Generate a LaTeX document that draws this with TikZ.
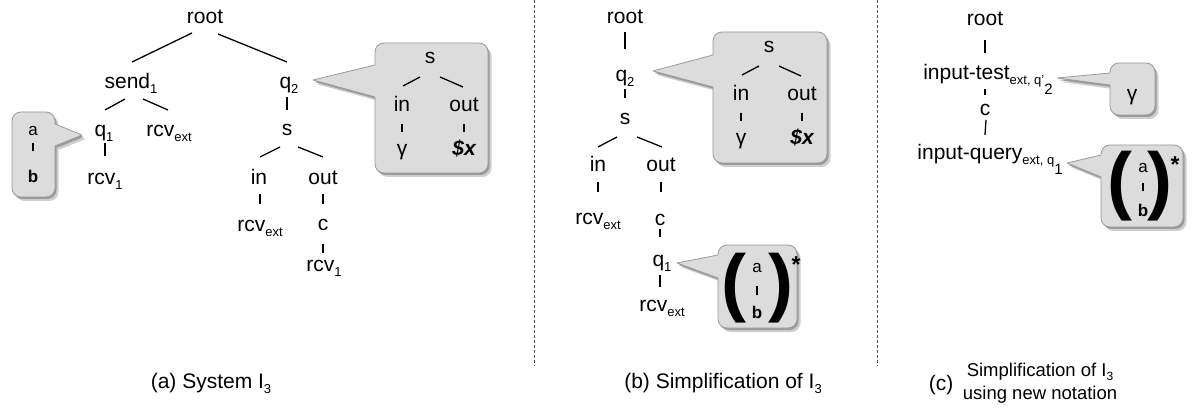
\documentclass[tikz,border=0pt]{standalone}
\usepackage{fontspec}
\setmainfont{Liberation Sans}
\usetikzlibrary{calc}
\newcommand\sbs[1]{\raisebox{-5pt}{\fontsize{13}{13}\selectfont #1}}
\newcommand\ssbs[1]{\raisebox{-10pt}{\fontsize{15}{15}\selectfont #1}}
\newcommand\csbs[1]{\raisebox{-4pt}{\fontsize{12}{12}\selectfont #1}}
\definecolor{callfill}{HTML}{DCDCDC}
\definecolor{callline}{HTML}{9A9A9A}
\definecolor{shadowA}{HTML}{9C9C9C}
\definecolor{shadowB}{HTML}{CFCFCF}
\definecolor{divcol}{HTML}{555555}
% #1 x1, #2 y1, #3 x2, #4 y2, #5 tip x, #6 tip y, #7 base y1, #8 base y2, #9 edge x
\newcommand\mycallout[9]{%
  \fill[shadowB,rounded corners=9pt] (#1+3.5,#2+4) rectangle (#3+3.5,#4+4);
  \fill[shadowB] (#5+3.5,#6+4) -- (#9+3.5,#7+4) -- (#9+3.5,#8+4) -- cycle;
  \fill[shadowA,rounded corners=9pt] (#1+1.5,#2+2) rectangle (#3+1.5,#4+2);
  \fill[shadowA] (#5+1.5,#6+2) -- (#9+1.5,#7+2) -- (#9+1.5,#8+2) -- cycle;
  \filldraw[fill=callfill,draw=callline,line width=0.8pt,rounded corners=9pt] (#1,#2) rectangle (#3,#4);
  \fill[callfill] (#5,#6) -- (#9,#7) -- ({#9+2*sign(#9-#5)},#7) -- ({#9+2*sign(#9-#5)},#8) -- (#9,#8) -- cycle;
  \draw[callline,line width=0.8pt,line join=round] (#9,#7) -- (#5,#6) -- (#9,#8);
}
\begin{document}
\begin{tikzpicture}[x=1pt,y=-1pt,
  lab/.style={font=\fontsize{21}{24}\selectfont, inner sep=0pt, anchor=base},
  caplab/.style={font=\fontsize{18.5}{22}\selectfont, inner sep=0pt, anchor=base},
  small/.style={font=\fontsize{17}{19}\selectfont, inner sep=0pt, anchor=base},
  paren/.style={font=\fontsize{75}{75}\selectfont\bfseries, inner sep=0pt, anchor=base},
  star/.style={font=\fontsize{23}{23}\selectfont\bfseries, inner sep=0pt, anchor=base},
  tline/.style={line width=1.3pt},
  sline/.style={line width=1.1pt},
  divider/.style={divcol, line width=0.9pt, dash pattern=on 3pt off 2pt}]
\useasboundingbox (0,0) rectangle (1193,419);

% dividers
\draw[divider] (534,0) -- (534,366);
\draw[divider] (877,0) -- (877,366);

% ---------------- panel (a) ----------------
\mycallout{12}{112}{55}{197}{82}{135}{124}{146}{55}
\mycallout{375}{43}{488}{173}{313}{80}{65}{97}{375}

\node[lab] (rootA) at (205,24) {root};
\node[lab] (sendA) at (131,89) {send\sbs{1}};
\node[lab] (q2A) at (289,89) {q\sbs{2}};
\node[lab] (q1A) at (104,137) {q\sbs{1}};
\node[lab] (rcvxA) at (169,137) {rcv\sbs{ext}};
\node[lab] (rcv1A) at (105,185) {rcv\sbs{1}};
\node[lab] (sA) at (287,136) {s};
\node[lab] (inA) at (259,185) {in};
\node[lab] (outA) at (323,185) {out};
\node[lab] (rcvxA2) at (260,232) {rcv\sbs{ext}};
\node[lab] (cA) at (323,231) {c};
\node[lab] (rcv1A2) at (324,272) {rcv\sbs{1}};

\draw[tline] ($(rootA.base)+(-13,9)$) -- ($(sendA.base)+(1,-27)$);
\draw[tline] ($(rootA.base)+(13,10)$) -- ($(q2A.base)+(-2,-27)$);
\draw[tline] ($(sendA.base)+(-6,10)$) -- ($(q1A.base)+(1,-27)$);
\draw[tline] ($(sendA.base)+(12,10)$) -- ($(rcvxA.base)+(-1,-27)$);
\draw[tline] ($(q1A.base)+(1,6)$) -- ($(rcv1A.base)+(0,-29)$);
\draw[tline] ($(q2A.base)+(-2,8)$) -- ($(sA.base)+(0,-26)$);
\draw[tline] ($(sA.base)+(-7,11)$) -- ($(inA.base)+(1,-28)$);
\draw[tline] ($(sA.base)+(11,11)$) -- ($(outA.base)+(0,-28)$);
\draw[tline] ($(inA.base)+(1,9)$) -- ($(rcvxA2.base)+(0,-28)$);
\draw[tline] ($(outA.base)+(0,9)$) -- ($(cA.base)+(0,-27)$);
\draw[tline] ($(cA.base)+(0,13)$) -- ($(rcv1A2.base)+(-1,-19)$);

% left callout contents
\node[small] (aL) at (33,136) {a};
\node[small] (bL) at (33,183) {\bfseries b};
\draw[sline] ($(aL.base)+(0,7)$) -- ($(bL.base)+(0,-32)$);

% right callout contents
\node[lab] (sR) at (430,64) {s};
\node[lab] (inR) at (402,112) {in};
\node[lab] (outR) at (464,112) {out};
\node[lab] (gR) at (402,156) {γ};
\node[lab] (xR) at (464,156) {\bfseries\itshape \$x};
\draw[tline] ($(sR.base)+(-10,13)$) -- ($(inR.base)+(1,-26)$);
\draw[tline] ($(sR.base)+(10,13)$) -- ($(outR.base)+(-1,-25)$);
\draw[sline] ($(inR.base)+(0,12)$) -- ($(gR.base)+(0,-24)$);
\draw[sline] ($(outR.base)+(0,12)$) -- ($(xR.base)+(0,-24)$);

% ---------------- panel (b) ----------------
\mycallout{713}{32}{827}{163}{653}{71}{55}{87}{713}
\mycallout{718}{245}{797}{328}{677}{263}{255}{278}{718}

\node[lab] (rootB) at (625,24) {root};
\node[lab] (q2B) at (625,82) {q\sbs{2}};
\node[lab] (sB) at (625,125) {s};
\node[lab] (inB) at (598,172) {in};
\node[lab] (outB) at (661,172) {out};
\node[lab] (rcvxB1) at (598,225) {rcv\sbs{ext}};
\node[lab] (cB) at (660,226) {c};
\node[lab] (q1B) at (662,267) {q\sbs{1}};
\node[lab] (rcvxB2) at (662,312) {rcv\sbs{ext}};

\draw[tline] ($(rootB.base)+(0,8)$) -- ($(q2B.base)+(0,-33)$);
\draw[tline] ($(q2B.base)+(0,7)$) -- ($(sB.base)+(0,-27)$);
\draw[tline] ($(sB.base)+(-8,12)$) -- ($(inB.base)+(0,-25)$);
\draw[tline] ($(sB.base)+(12,12)$) -- ($(outB.base)+(1,-25)$);
\draw[tline] ($(inB.base)+(0,10)$) -- ($(rcvxB1.base)+(0,-33)$);
\draw[tline] ($(outB.base)+(0,10)$) -- ($(cB.base)+(1,-34)$);
\draw[tline] ($(cB.base)+(0,3)$) -- ($(q1B.base)+(-2,-30)$);
\draw[tline] ($(q1B.base)+(-2,8)$) -- ($(rcvxB2.base)+(-2,-25)$);

\node[lab] (sRB) at (769,53) {s};
\node[lab] (inRB) at (741,101) {in};
\node[lab] (outRB) at (802,101) {out};
\node[lab] (gRB) at (741,145) {γ};
\node[lab] (xRB) at (802,145) {\bfseries\itshape \$x};
\draw[tline] ($(sRB.base)+(-10,13)$) -- ($(inRB.base)+(1,-26)$);
\draw[tline] ($(sRB.base)+(10,13)$) -- ($(outRB.base)+(-1,-25)$);
\draw[sline] ($(inRB.base)+(0,12)$) -- ($(gRB.base)+(0,-24)$);
\draw[sline] ($(outRB.base)+(0,12)$) -- ($(xRB.base)+(0,-24)$);

\node[paren] (plB) at (734,308) {(};
\node[paren] (prB) at (781,308) {)};
\node[small] (aB) at (757,273) {a};
\node[small] (bB) at (757,319) {\bfseries b};
\node[star] (stB) at (796,273) {*};
\draw[sline] ($(aB.base)+(0,13)$) -- ($(bB.base)+(0,-24)$);

% ---------------- panel (c) ----------------
\mycallout{1110}{63}{1155}{115}{1057}{78}{73}{85}{1110}
\mycallout{1101}{145}{1183}{227}{1067}{163}{155}{177}{1101}

\node[lab] (rootC) at (985,26) {root};
\node[lab] (itC) at (988,80) {input-test\sbs{ext, q’\ssbs{2}}};
\node[lab] (cC) at (985,116) {c};
\node[lab] (iqC) at (990,160) {input-query\sbs{ext, q\ssbs{1}}};

\draw[tline] ($(rootC.base)+(0,14)$) -- ($(itC.base)+(-3,-27)$);
\draw[tline] ($(itC.base)+(-3,9)$) -- ($(cC.base)+(0,-21)$);
\draw[tline] ($(cC.base)+(1,4)$) -- ($(iqC.base)+(-5,-25)$);

\node[lab] (gC) at (1132,101) {γ};
\node[paren] (plC) at (1120,206) {(};
\node[paren] (prC) at (1160,206) {)};
\node[small] (aC) at (1143,173) {a};
\node[small] (bC) at (1143,217) {\bfseries b};
\node[star] (stC) at (1175,173) {*};
\draw[sline] ($(aC.base)+(0,10)$) -- ($(bC.base)+(0,-26)$);

% ---------------- captions ----------------
\node[lab] (capA) at (211,388) {(a) System I\sbs{3}};
\node[lab] (capB) at (723,388) {(b) Simplification of I\sbs{3}};
\node[lab] (capC) at (941,390) {(c)};
\node[caplab] (capC2) at (1040,376) {Simplification of I\csbs{3}};
\node[caplab] (capC3) at (1040,399) {using new notation};
\end{tikzpicture}
\end{document}
